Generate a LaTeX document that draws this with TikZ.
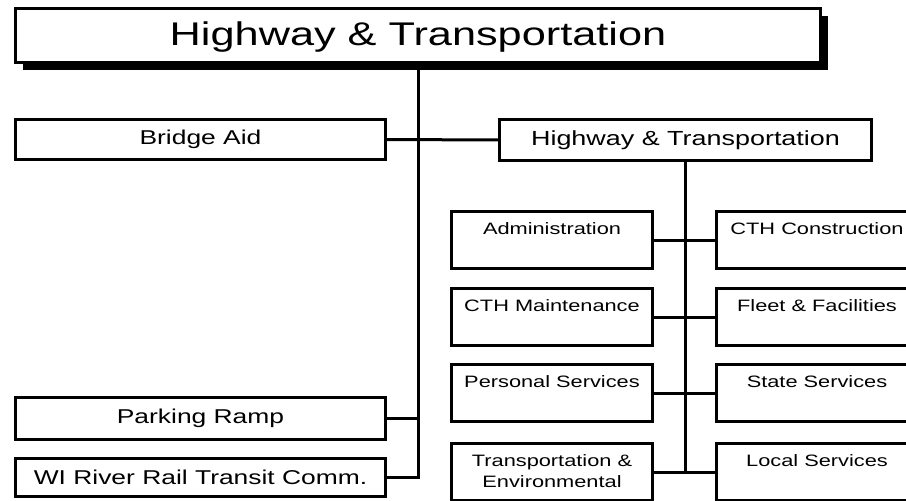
\documentclass[tikz,border=0pt]{standalone}
\usepackage{fontspec}
\setmainfont[FakeStretch=1.32]{Liberation Sans}
\usetikzlibrary{shadows}
\begin{document}
\begin{tikzpicture}[x=1pt,y=-1pt,
  box/.style={draw, fill=white, line width=3pt, outer sep=0pt, inner sep=0pt, line join=miter},
  big/.style={font=\fontsize{32.8}{40}\selectfont},
  mid/.style={font=\fontsize{20}{24}\selectfont},
  wide/.style={box, mid, minimum width=370pt},
  sub/.style={box, minimum width=201pt, minimum height=57pt},
  lbl/.style={font=\fontsize{16.5}{21}\selectfont, inner sep=0pt, anchor=north, yshift=-10.5pt, align=center},
  conn/.style={line width=3pt, line join=miter}]
\useasboundingbox (0,0) rectangle (906,501);
\clip (0,0) rectangle (906,501);

\node[box, big, minimum width=805pt, minimum height=54pt, text depth=3pt,
  drop shadow={shadow xshift=7pt, shadow yshift=-7pt, fill=black, opacity=1}]
  (top) at (418,35.5) {Highway \& Transportation};

\node[wide, minimum height=40pt] (bridge) at (200.5,139.5) {Bridge Aid};
\node[wide, minimum height=42pt] (parking) at (200.5,418.5) {Parking Ramp};
\node[wide, minimum height=38pt] (wi) at (200.5,477.5) {WI River Rail Transit Comm.};
\node[box, font=\fontsize{20.4}{24}\selectfont, minimum width=372pt, minimum height=41pt] (ht) at (685.5,140) {Highway \& Transportation};

\node[sub, label={[lbl]north:Administration}] (adm) at (552,240) {};
\node[sub, label={[lbl]north:CTH Maintenance}] (cthm) at (552,317) {};
\node[sub, label={[lbl]north:Personal Services}] (pers) at (552,393) {};
\node[sub, label={[lbl]north:Transportation \&\\Environmental}] (trans) at (552,472) {};
\node[sub, label={[lbl]north:CTH Construction}] (cthc) at (817,240) {};
\node[sub, label={[lbl]north:Fleet \& Facilities}] (fleet) at (817,317) {};
\node[sub, label={[lbl]north:State Services}] (state) at (817,393) {};
\node[sub, label={[lbl]north:Local Services}] (local) at (817,472) {};

\draw[conn] (top.south) |- (wi.east);
\draw[conn] (bridge.east) -- (ht.west);
\draw[conn] (parking.east) -- (parking.east -| top.south);

\draw[conn] (ht.south) -- (ht.south |- trans.east);
\draw[conn] (adm.east) -- (cthc.west);
\draw[conn] (cthm.east) -- (fleet.west);
\draw[conn] (pers.east) -- (state.west);
\draw[conn] (trans.east) -- (local.west);
\end{tikzpicture}
\end{document}
